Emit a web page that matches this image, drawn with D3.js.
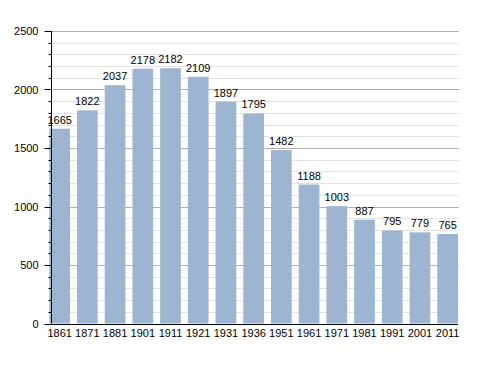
<!DOCTYPE html>
<html><head><meta charset="utf-8">
<script src="https://cdn.jsdelivr.net/npm/d3@7"></script>
<style>body{margin:0;background:#fff}svg{display:block}text{font-family:"Liberation Sans",Arial,sans-serif}</style>
</head><body><svg id="c" width="488" height="373"></svg>
<script>
const years = ["1861","1871","1881","1901","1911","1921","1931","1936","1951","1961","1971","1981","1991","2001","2011"];
const population = [1665,1822,2037,2178,2182,2109,1897,1795,1482,1188,1003,887,795,779,765];
const yTicks = [0,500,1000,1500,2000,2500];

const svg = d3.select("#c");
const x = d3.scaleBand().domain(years).range([49.3,458]).paddingInner(0.253).paddingOuter(0);
const y = d3.scaleLinear().domain([0,2500]).range([323.5,31]);

// minor grid
const minor = d3.range(100,2500,100).filter(v=>v%500!==0);
svg.append("g").selectAll("line").data(minor).join("line")
  .attr("x1",51).attr("x2",459).attr("y1",d=>Math.round(y(d))+0.5).attr("y2",d=>Math.round(y(d))+0.5)
  .attr("stroke","#e2e2e2").attr("stroke-width",1);
svg.append("g").selectAll("line").data(yTicks.filter(v=>v>0)).join("line")
  .attr("x1",51).attr("x2",459).attr("y1",d=>Math.round(y(d))+0.5).attr("y2",d=>Math.round(y(d))+0.5)
  .attr("stroke","#b0b0b0").attr("stroke-width",1);

// bars
svg.append("g").selectAll("rect").data(population).join("rect")
  .attr("x",(d,i)=>x(years[i])).attr("width",x.bandwidth())
  .attr("y",d=>y(d)).attr("height",d=>y(0)-y(d))
  .attr("fill","#9db5d0");

// value labels
svg.append("g").selectAll("text").data(population).join("text")
  .attr("x",(d,i)=>x(years[i])+x.bandwidth()/2).attr("y",d=>y(d)-5)
  .attr("text-anchor","middle").attr("font-size","11px").attr("fill","#000")
  .text(d=>d);

// y axis
const yAxis = svg.append("g").attr("transform","translate(51.5,0)");
yAxis.append("line").attr("x1",0).attr("x2",0).attr("y1",y(2500)).attr("y2",y(0)).attr("stroke","#000");
yAxis.selectAll(".mn").data(d3.range(100,2500,100).filter(v=>v%500!==0)).join("line")
  .attr("x1",-3).attr("x2",0).attr("y1",d=>Math.round(y(d))+0.5).attr("y2",d=>Math.round(y(d))+0.5).attr("stroke","#000");
yAxis.selectAll(".mj").data(yTicks).join("line")
  .attr("x1",-7).attr("x2",0).attr("y1",d=>Math.round(y(d))+0.5).attr("y2",d=>Math.round(y(d))+0.5).attr("stroke","#000");
yAxis.selectAll("text").data(yTicks).join("text")
  .attr("x",-13).attr("y",d=>y(d)+4).attr("text-anchor","end").attr("font-size","11px").text(d=>d);

// x axis
svg.append("line").attr("x1",45).attr("x2",458).attr("y1",Math.round(y(0))+0.5).attr("y2",Math.round(y(0))+0.5).attr("stroke","#000");
svg.append("g").selectAll("text").data(years).join("text")
  .attr("x",d=>x(d)+x.bandwidth()/2).attr("y",337).attr("text-anchor","middle").attr("font-size","11px").text(d=>d);
</script></body></html>
